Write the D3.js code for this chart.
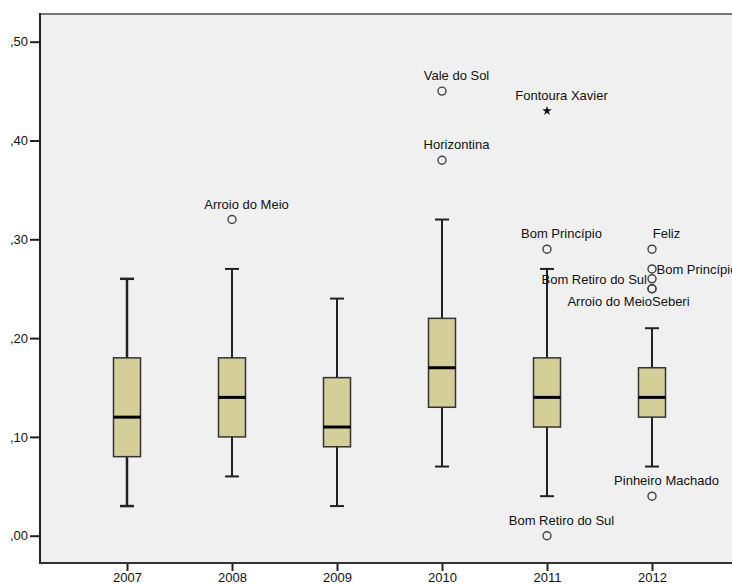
<!DOCTYPE html>
<html>
<head>
<meta charset="utf-8">
<script src="https://cdn.jsdelivr.net/npm/d3@7"></script>
<style>
  body { margin: 0; background: #fff; }
  text { font-family: "Liberation Sans", Arial, sans-serif; font-size: 13px; fill: #111; }
</style>
</head>
<body>
<script>
// years on the x axis
var years = ["2007", "2008", "2009", "2010", "2011", "2012"];

// box statistics
var whiskerLow  = [0.03, 0.06, 0.03, 0.07, 0.04, 0.07];
var q1          = [0.08, 0.10, 0.09, 0.13, 0.11, 0.12];
var medians     = [0.12, 0.14, 0.11, 0.17, 0.14, 0.14];
var q3          = [0.18, 0.18, 0.16, 0.22, 0.18, 0.17];
var whiskerHigh = [0.26, 0.27, 0.24, 0.32, 0.27, 0.21];

// outliers (o) and extremes (*)
var outYears  = ["2008", "2010", "2010", "2011", "2011", "2011", "2012", "2012", "2012", "2012", "2012", "2012"];
var outValues = [0.32, 0.45, 0.38, 0.43, 0.29, 0.00, 0.29, 0.27, 0.26, 0.25, 0.25, 0.04];
var outNames  = ["Arroio do Meio", "Vale do Sol", "Horizontina", "Fontoura Xavier", "Bom Princípio",
                 "Bom Retiro do Sul", "Feliz", "Bom Princípio", "Bom Retiro do Sul", "Arroio do Meio",
                 "Seberi", "Pinheiro Machado"];
var outKinds  = ["o", "o", "o", "*", "o", "o", "o", "o", "o", "o", "o", "o"];

var yTicks = [0, 0.1, 0.2, 0.3, 0.4, 0.5];

// label placement for the crowded 2012 group (default is above the point)
var placement = { 7: "right", 8: "left", 9: "belowLeft", 10: "belowRight" };

var W = 732, H = 585;
var plot = { left: 40, top: 14, bottom: 563, right: 745 };

var svg = d3.select("body").append("svg")
    .attr("width", W)
    .attr("height", H);

var x = d3.scalePoint().domain(years).range([127, 652]);
var y = d3.scaleLinear().domain([0, 0.5]).range([535.7, 41.7]);

// plot background
svg.append("rect")
    .attr("x", plot.left).attr("y", plot.top)
    .attr("width", plot.right - plot.left).attr("height", plot.bottom - plot.top)
    .attr("fill", "#f0f0f0");

// frame top (grey)
svg.append("line")
    .attr("x1", plot.left).attr("x2", plot.right)
    .attr("y1", plot.top).attr("y2", plot.top)
    .attr("stroke", "#777").attr("stroke-width", 2);

var boxW = 27, capW = 14;

var g = svg.append("g");
years.forEach(function(yr, i) {
  var cx = x(yr);
  // whisker
  g.append("line")
      .attr("x1", cx).attr("x2", cx)
      .attr("y1", y(whiskerLow[i])).attr("y2", y(whiskerHigh[i]))
      .attr("stroke", "#222").attr("stroke-width", i == 0 ? 2.5 : 2);
  [whiskerLow[i], whiskerHigh[i]].forEach(function(v) {
    g.append("line")
        .attr("x1", cx - capW / 2).attr("x2", cx + capW / 2)
        .attr("y1", y(v)).attr("y2", y(v))
        .attr("stroke", "#222").attr("stroke-width", i == 0 ? 2.5 : 2);
  });
  // box
  g.append("rect")
      .attr("x", cx - boxW / 2).attr("width", boxW)
      .attr("y", y(q3[i])).attr("height", y(q1[i]) - y(q3[i]))
      .attr("fill", "#d4cf98").attr("stroke", "#333").attr("stroke-width", 1.5);
  // median
  g.append("line")
      .attr("x1", cx - boxW / 2).attr("x2", cx + boxW / 2)
      .attr("y1", y(medians[i])).attr("y2", y(medians[i]))
      .attr("stroke", "#000").attr("stroke-width", 3);
});

// outliers
outValues.forEach(function(v, i) {
  var cx = x(outYears[i]), cy = y(v);
  if (outKinds[i] == "*") {
    g.append("path")
        .attr("d", d3.symbol().type(d3.symbolStar).size(28)())
        .attr("transform", "translate(" + cx + "," + cy + ")")
        .attr("fill", "#111");
  } else {
    g.append("circle")
        .attr("cx", cx).attr("cy", cy).attr("r", 4)
        .attr("fill", "none").attr("stroke", "#444").attr("stroke-width", 1.4);
  }
  var p = placement[i] || "above";
  var t = g.append("text").text(outNames[i]);
  if (p == "above") {
    t.attr("x", cx + 14.5).attr("y", cy - 11).attr("text-anchor", "middle");
  } else if (p == "right") {
    t.attr("x", cx + 4.5).attr("y", cy + 5.5).attr("text-anchor", "start");
  } else if (p == "left") {
    t.attr("x", cx - 5).attr("y", cy + 5).attr("text-anchor", "end");
  } else if (p == "belowLeft") {
    t.attr("x", cx).attr("y", cy + 17).attr("text-anchor", "end");
  } else {
    t.attr("x", cx).attr("y", cy + 17).attr("text-anchor", "start");
  }
});

// y axis
var yAxis = d3.axisLeft(y).tickValues(yTicks).tickSize(10).tickPadding(2)
    .tickFormat(function(d) { return d3.format(".2f")(d).replace("0.", ","); });
var ya = svg.append("g").attr("transform", "translate(" + plot.left + ",0)").call(yAxis);
ya.select(".domain").remove();
ya.selectAll(".tick line").attr("stroke", "#222").attr("stroke-width", 2);
ya.selectAll(".tick text").style("font-size", "13px").attr("fill", "#111");
svg.append("line")
    .attr("x1", plot.left).attr("x2", plot.left)
    .attr("y1", plot.top - 1).attr("y2", plot.bottom + 1)
    .attr("stroke", "#222").attr("stroke-width", 2);

// x axis
var xAxis = d3.axisBottom(x).tickSize(8).tickPadding(2);
var xa = svg.append("g").attr("transform", "translate(0," + plot.bottom + ")").call(xAxis);
xa.select(".domain").remove();
xa.selectAll(".tick line").attr("stroke", "#222").attr("stroke-width", 2);
xa.selectAll(".tick text").style("font-size", "13px").attr("fill", "#111");
svg.append("line")
    .attr("x1", plot.left - 1).attr("x2", plot.right)
    .attr("y1", plot.bottom).attr("y2", plot.bottom)
    .attr("stroke", "#333").attr("stroke-width", 2);
</script>
</body>
</html>
